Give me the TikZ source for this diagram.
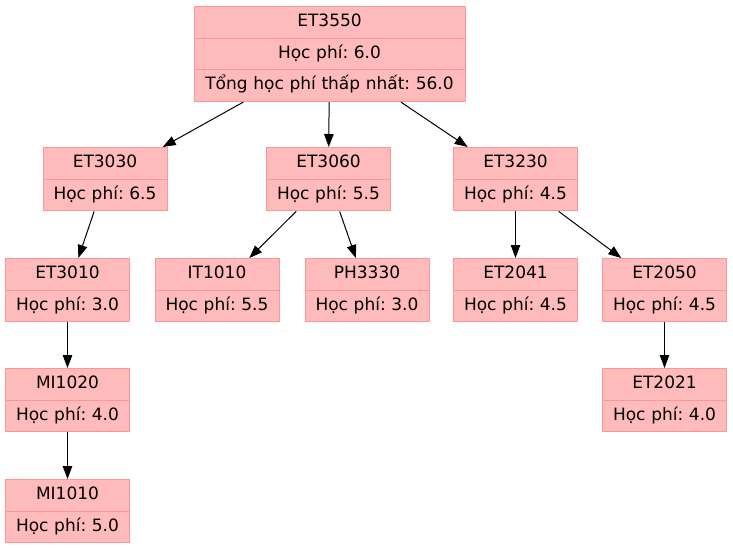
\documentclass[tikz,border=0pt]{standalone}
\usepackage{fontspec}
\setmainfont{DejaVu Sans}
\usetikzlibrary{shapes.multipart,arrows.meta}
\definecolor{cfill}{RGB}{255,187,187}
\definecolor{cline}{RGB}{255,150,150}
\newcommand{\rs}{\rule[-11.2pt]{0pt}{30.7pt}}
\frenchspacing

\begin{document}
\begin{tikzpicture}[x=1pt,y=-1pt,
  course/.style={rectangle split, rectangle split parts=#1, draw=cline, fill=cfill,
    line width=1pt, inner xsep=0pt, inner ysep=0pt, text width=124pt, align=center,
    anchor=north, font=\fontsize{17}{20}\selectfont},
  course/.default=2,
  every edge/.style={draw, line width=1pt, -{Triangle[length=13pt,width=9.5pt]}}]
\useasboundingbox (0,0) rectangle (733,547);

\node (D1) at (329.5,6) [course=3, text width=271pt]
  {\rs ET3550\nodepart{two}\rs Học phí: 6.0\nodepart{three}\rs Tổng học phí thấp nhất: 56.0};
\node (D2) at (105,147) [course] {\rs ET3030\nodepart{two}\rs Học phí: 6.5};
\node (D3) at (328.5,147) [course] {\rs ET3060\nodepart{two}\rs Học phí: 5.5};
\node (D4) at (515.5,147) [course] {\rs ET3230\nodepart{two}\rs Học phí: 4.5};
\node (D5) at (67.5,258) [course] {\rs ET3010\nodepart{two}\rs Học phí: 3.0};
\node (D6) at (217,258) [course] {\rs IT1010\nodepart{two}\rs Học phí: 5.5};
\node (D7) at (367,258) [course] {\rs PH3330\nodepart{two}\rs Học phí: 3.0};
\node (D8) at (515.5,258) [course] {\rs ET2041\nodepart{two}\rs Học phí: 4.5};
\node (D9) at (664.5,258) [course] {\rs ET2050\nodepart{two}\rs Học phí: 4.5};
\node (D10) at (67.5,368) [course] {\rs MI1020\nodepart{two}\rs Học phí: 4.0};
\node (D11) at (664.5,368) [course] {\rs ET2021\nodepart{two}\rs Học phí: 4.0};
\node (D12) at (67.5,479) [course] {\rs MI1010\nodepart{two}\rs Học phí: 5.0};

\draw (D1) edge (D2) (D1) edge (D3) (D1) edge (D4);
\draw (D2) edge (D5);
\draw (D3) edge (D6) (D3) edge (D7);
\draw (D4) edge (D8) (D4) edge (D9);
\draw (D5) edge (D10) (D10) edge (D12);
\draw (D9) edge (D11);

\end{tikzpicture}
\end{document}
